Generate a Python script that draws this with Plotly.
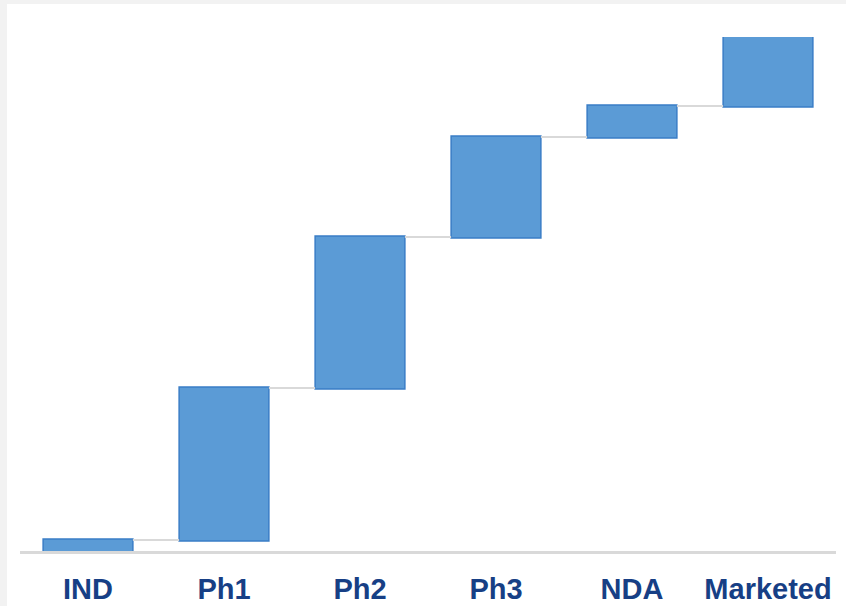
import plotly.graph_objects as go

# stages of drug development and the increment each adds
stages = ["IND", "Ph1", "Ph2", "Ph3", "NDA", "Marketed"]
increments = [11, 152, 151, 100, 31, 69]

total = sum(increments)

fig = go.Figure()

fig.add_trace(go.Waterfall(
    x=stages,
    y=increments,
    measure=["relative"] * len(stages),
    increasing=dict(marker=dict(color="#5b9bd6", line=dict(color="#3a7dc6", width=1.5))),
    connector=dict(mode="between", line=dict(color="#d9d9d9", width=2)),
    width=0.66,
    hoverinfo="skip",
    showlegend=False,
))

# white panel over a light grey page
fig.add_shape(type="rect", xref="paper", yref="paper",
              x0=-0.016, x1=1.02, y0=-0.2, y1=1.064,
              fillcolor="white", line=dict(width=0), layer="below")

fig.update_layout(
    width=846, height=606,
    margin=dict(l=20, r=10, t=37, b=55),
    paper_bgcolor="#f2f2f2",
    plot_bgcolor="white",
    xaxis=dict(
        showline=True, linecolor="#d9d9d9", linewidth=3,
        showgrid=False, zeroline=False, automargin=False,
        ticks="", ticklabelstandoff=10,
        tickfont=dict(family="Liberation Sans, Arial", size=29, color="#173f85", weight="bold"),
    ),
    yaxis=dict(range=[0, total], visible=False, showgrid=False, zeroline=False, automargin=False),
)

fig.write_html("out.html", config={"displayModeBar": False},
               post_script="document.body.style.margin='0';")
